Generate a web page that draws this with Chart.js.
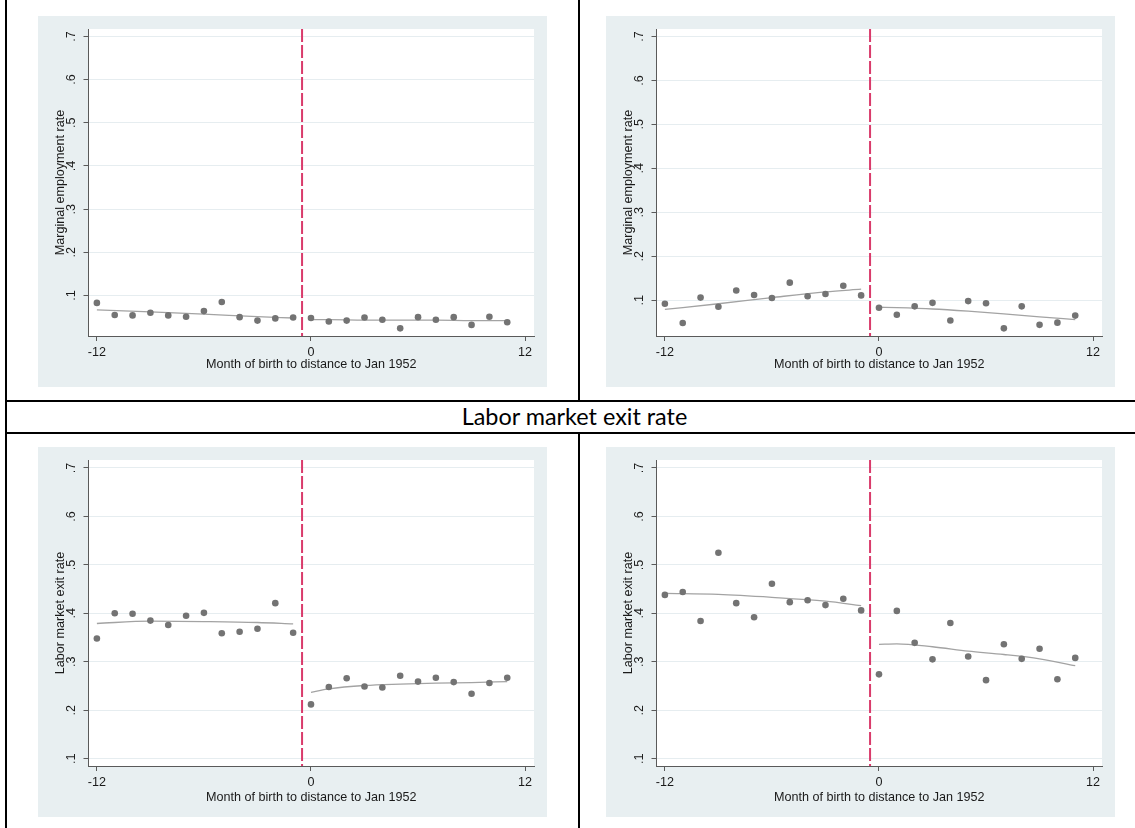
<!DOCTYPE html>
<html>
<head>
<meta charset="utf-8">
<script src="https://cdn.jsdelivr.net/npm/chart.js@4.4.1/dist/chart.umd.min.js"></script>
<style>
  body { margin: 0; background: #fff; width: 1135px; height: 828px; overflow: hidden; position: relative; }
  .rule { position: absolute; background: #000; }
  canvas { position: absolute; background: #e8eff1; }
  #rowTitle { position: absolute; left: 0; width: 1149px; top: 400px; line-height: 32px; text-align: center;
              font-family: Lato, "Open Sans", sans-serif; font-size: 23.4px; color: #000; }
</style>
</head>
<body>
<div class="rule" style="left:5px;top:0;width:2px;height:828px"></div>
<div class="rule" style="left:5px;top:400px;width:1130px;height:2px"></div>
<div class="rule" style="left:5px;top:432px;width:1130px;height:2px"></div>
<div class="rule" style="left:578px;top:0;width:2px;height:400px"></div>
<div class="rule" style="left:578px;top:434px;width:2px;height:394px"></div>
<div id="rowTitle">Labor market exit rate</div>

<canvas id="empA" width="509" height="371" style="left:38px;top:16px"></canvas>
<canvas id="empB" width="509" height="371" style="left:606px;top:16px"></canvas>
<canvas id="exitA" width="509" height="370" style="left:38px;top:447px"></canvas>
<canvas id="exitB" width="509" height="370" style="left:606px;top:447px"></canvas>

<script>
// month of birth relative to Jan 1952
const months = [-12, -11, -10, -9, -8, -7, -6, -5, -4, -3, -2, -1, 0, 1, 2, 3, 4, 5, 6, 7, 8, 9, 10, 11];
const xTicks = [-12, 0, 12];
const yTicks = [0.1, 0.2, 0.3, 0.4, 0.5, 0.6, 0.7];
const cutoff = -0.5;

// binned means
const margEmpA = [0.083, 0.055, 0.054, 0.060, 0.054, 0.051, 0.064, 0.085, 0.050, 0.042, 0.047, 0.049,
                  0.048, 0.040, 0.042, 0.049, 0.044, 0.024, 0.050, 0.044, 0.050, 0.032, 0.051, 0.038];
const margEmpB = [0.092, 0.048, 0.106, 0.085, 0.122, 0.112, 0.105, 0.140, 0.109, 0.114, 0.133, 0.111,
                  0.083, 0.067, 0.086, 0.094, 0.054, 0.098, 0.093, 0.036, 0.086, 0.044, 0.049, 0.065];
const exitRateA = [0.348, 0.400, 0.399, 0.385, 0.376, 0.395, 0.401, 0.359, 0.362, 0.368, 0.421, 0.360,
                   0.212, 0.248, 0.266, 0.249, 0.247, 0.271, 0.259, 0.267, 0.258, 0.234, 0.256, 0.267];
const exitRateB = [0.438, 0.444, 0.384, 0.525, 0.421, 0.392, 0.461, 0.423, 0.427, 0.417, 0.430, 0.406,
                   0.274, 0.405, 0.339, 0.305, 0.380, 0.311, 0.262, 0.336, 0.306, 0.327, 0.264, 0.308];

const fitPreX = [-12, -9, -6, -3, -1];
const fitPostX = [0, 1, 3, 5, 7, 9, 11];
const fitEmpAPre = [0.067, 0.062, 0.057, 0.051, 0.048];
const fitEmpAPost = [0.044, 0.044, 0.043, 0.043, 0.043, 0.042, 0.042];
const fitEmpBPre = [0.079, 0.092, 0.106, 0.119, 0.125];
const fitEmpBPost = [0.084, 0.083, 0.080, 0.075, 0.069, 0.062, 0.056];
const fitExitAPre = [0.379, 0.384, 0.383, 0.381, 0.378];
const fitExitAPost = [0.237, 0.244, 0.251, 0.254, 0.256, 0.257, 0.259];
const fitExitBPre = [0.441, 0.439, 0.433, 0.425, 0.416];
const fitExitBPost = [0.336, 0.337, 0.331, 0.322, 0.315, 0.306, 0.292];

const xTitle = 'Month of birth to distance to Jan 1952';
const axisFont = { family: 'Liberation Sans', size: 12.6 };
const axisGray = '#5a5a5a';
const textColor = '#1a1a1a';

const panelPlugin = {
  id: 'panel',
  beforeDraw(chart) {
    const { ctx, chartArea: a } = chart;
    ctx.save();
    ctx.fillStyle = '#fff';
    ctx.fillRect(a.left, a.top, a.right - a.left, a.bottom - a.top);
    ctx.restore();
  },
  beforeDatasetsDraw(chart) {
    const { ctx, chartArea: a } = chart;
    const px = chart.scales.x.getPixelForValue(cutoff);
    ctx.save();
    ctx.strokeStyle = '#d93b6b';
    ctx.lineWidth = 2;
    ctx.setLineDash([13, 3]);
    ctx.beginPath();
    ctx.moveTo(px, a.top);
    ctx.lineTo(px, a.bottom);
    ctx.stroke();
    ctx.restore();
  }
};

function pairs(xs, ys) {
  return xs.map((x, i) => ({ x: x, y: ys[i] }));
}

function fitLine(xs, ys) {
  return {
    type: 'line',
    data: pairs(xs, ys),
    borderColor: '#a3a3a3',
    borderWidth: 1.3,
    pointRadius: 0,
    cubicInterpolationMode: 'monotone',
    fill: false
  };
}

function makePanel(id, yTitle, values, fitPre, fitPost, yMin, yMax, xTitlePad) {
  new Chart(document.getElementById(id), {
    type: 'scatter',
    data: {
      datasets: [
        { data: pairs(months, values), pointRadius: 3.3, backgroundColor: '#737373', borderWidth: 0 },
        fitLine(fitPreX, fitPre),
        fitLine(fitPostX, fitPost)
      ]
    },
    options: {
      responsive: false,
      animation: false,
      devicePixelRatio: 1,
      layout: { padding: { top: 13, right: 13, left: 0, bottom: 0 } },
      plugins: { legend: { display: false }, tooltip: { enabled: false } },
      scales: {
        x: {
          type: 'linear',
          min: -12.47,
          max: 12.5,
          afterBuildTicks: s => { s.ticks = xTicks.map(v => ({ value: v })); },
          afterFit: s => { s.height = 51; s.paddingLeft = 0; s.paddingRight = 0; },
          grid: { drawOnChartArea: false, tickLength: 5, tickColor: axisGray },
          border: { color: axisGray, width: 1 },
          ticks: { font: axisFont, color: textColor, padding: 3.5, maxRotation: 0, autoSkip: false,
                   callback: v => String(v) },
          title: { display: true, text: xTitle, font: axisFont, color: textColor,
                   padding: { top: 0, bottom: xTitlePad } }
        },
        y: {
          min: yMin,
          max: yMax,
          afterBuildTicks: s => { s.ticks = yTicks.map(v => ({ value: v })); },
          afterFit: s => { s.width = 50.5; s.paddingTop = 0; s.paddingBottom = 0; },
          grid: { color: '#e6edf0', lineWidth: 1, tickLength: 5, tickColor: axisGray },
          border: { color: axisGray, width: 1 },
          ticks: { font: axisFont, color: textColor, minRotation: 90, maxRotation: 90, crossAlign: 'center',
                   padding: 6.5, autoSkip: false, callback: v => v.toFixed(1).replace(/^0/, '') },
          title: { display: true, text: yTitle, font: axisFont, color: textColor,
                   padding: { top: 14.6, bottom: 0 } }
        }
      }
    },
    plugins: [panelPlugin]
  });
}

makePanel('empA', 'Marginal employment rate', margEmpA, fitEmpAPre, fitEmpAPost, 0.0063, 0.7172, 14.9);
makePanel('empB', 'Marginal employment rate', margEmpB, fitEmpBPre, fitEmpBPost, 0.0186, 0.7169, 14.9);
makePanel('exitA', 'Labor market exit rate', exitRateA, fitExitAPre, fitExitAPost, 0.0848, 0.7165, 12.2);
makePanel('exitB', 'Labor market exit rate', exitRateB, fitExitBPre, fitExitBPost, 0.0848, 0.7165, 12.2);
</script>
</body>
</html>
